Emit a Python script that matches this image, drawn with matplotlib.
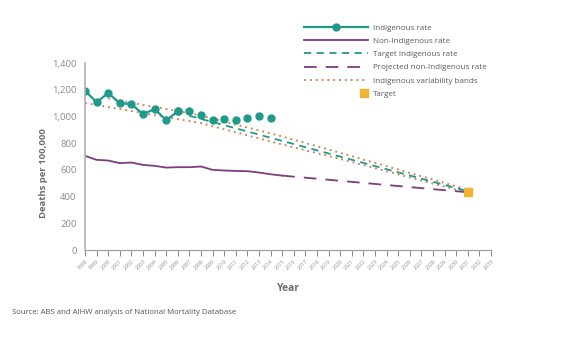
import matplotlib.pyplot as plt
from matplotlib.lines import Line2D
from matplotlib.legend_handler import HandlerBase

# data
years_ind = list(range(1998, 2015))
ind_rate = [1192, 1107, 1175, 1100, 1092, 1017, 1055, 972, 1037,
            1037, 1007, 972, 982, 977, 990, 1005, 987]
n_joined = 9  # 1998-2006 are joined by a line, the rest are markers only

years_non = list(range(1998, 2016))
non_rate = [705, 675, 670, 650, 655, 637, 630, 617, 620,
            620, 625, 600, 595, 592, 590, 580, 567, 557]

proj_years = [2015, 2031]
proj_non = [557, 432]

target_years = [2007, 2031]
target_ind = [1005, 440]

band_up_years = [2000, 2008, 2015, 2019, 2031]
band_up = [1135, 1007, 850, 752, 452]
band_lo_years = [1998, 2008, 2015, 2020, 2031]
band_lo = [1100, 950, 790, 682, 428]

target_year = [2031]
target_val = [435]

x_ticks = list(range(1998, 2034))
y_ticks = [0, 200, 400, 600, 800, 1000, 1200, 1400]

teal = '#1f9a8a'
purple = '#7d3c80'
orange = '#d0885a'
gold = '#f0b432'
grey = '#8a8a8a'

plt.rcParams['font.family'] = ['Open Sans', 'DejaVu Sans']


class RightSquare(HandlerBase):
    # square drawn at the right end of the legend handle
    def create_artists(self, legend, orig_handle, xdescent, ydescent,
                       width, height, fontsize, trans):
        m = Line2D([width - xdescent - 3], [height / 2 - ydescent],
                   marker='s', ms=6, color=gold, ls='none', transform=trans)
        return [m]


fig = plt.figure(figsize=(5.7, 3.42), dpi=100)
ax = fig.add_axes([85 / 570, 1 - 250 / 342, 406 / 570, 187 / 342])

ax.plot(band_up_years, band_up, color=orange, lw=1.4, ls=(0, (1, 2)))
ax.plot(band_lo_years, band_lo, color=orange, lw=1.4, ls=(0, (1, 2)))
ax.plot(target_years, target_ind, color=teal, lw=1.3, ls=(0, (4, 3)))
ax.plot(proj_years, proj_non, color=purple, lw=1.3, ls=(0, (7, 5)))
ax.plot(years_non, non_rate, color=purple, lw=1.3)
ax.plot(years_ind[:n_joined], ind_rate[:n_joined], color=teal, lw=1.6,
        marker='o', ms=5)
ax.plot(years_ind[n_joined - 1:], ind_rate[n_joined - 1:], color=teal,
        ls='none', marker='o', ms=5)
ax.plot(target_year, target_val, color=gold, ls='none', marker='s', ms=6)

ax.set_xlim(1998, 2033)
ax.set_ylim(0, 1400)
ax.set_xticks(x_ticks)
ax.set_xticklabels([str(y) for y in x_ticks], rotation=45, ha='right',
                   rotation_mode='anchor', fontsize=3.8, color=grey)
ax.set_yticks(y_ticks)
ax.set_yticklabels([f'{v:,}' for v in y_ticks], fontsize=6.8, color=grey)
ax.tick_params(axis='x', length=4, width=0.7, color=grey, pad=2)
ax.tick_params(axis='y', length=0, pad=6)
for s in ['top', 'right']:
    ax.spines[s].set_visible(False)
ax.spines['left'].set_color('#b0b0b0')
ax.spines['bottom'].set_color('#a0a0a0')
ax.spines['left'].set_linewidth(1.2)
ax.spines['bottom'].set_linewidth(0.9)

ax.set_xlabel('Year', fontsize=7.5, fontweight='bold', color='#6f6f6f')
ax.xaxis.set_label_coords(0.502, -0.175)
ax.set_ylabel('Deaths per 100,000', fontsize=6.8, fontweight='bold',
              color='#6f6f6f')
ax.yaxis.set_label_coords(-0.09, 0.41)

handles = [
    Line2D([], [], color=teal, lw=1.6, marker='o', ms=5),
    Line2D([], [], color=purple, lw=1.3),
    Line2D([], [], color=teal, lw=1.3, ls=(0, (4, 3))),
    Line2D([], [], color=purple, lw=1.3, ls=(0, (7, 5))),
    Line2D([], [], color=orange, lw=1.4, ls=(0, (1, 2))),
    Line2D([], [], color=gold, ls='none', marker='s', ms=6),
]
labels = ['Indigenous rate', 'Non-Indigenous rate', 'Target Indigenous rate',
          'Projected non-Indigenous rate', 'Indigenous variability bands',
          'Target']
leg = fig.legend(handles, labels, loc='upper left',
                 bbox_to_anchor=(300 / 570, 1 - 20 / 342), frameon=False,
                 fontsize=5.8, handlelength=8.0, handletextpad=0.6,
                 labelspacing=0.7, borderpad=0,
                 handler_map={handles[5]: RightSquare()})
for t in leg.get_texts():
    t.set_color('#5a5a5a')

fig.text(12 / 570, 1 - 312 / 342,
         'Source: ABS and AIHW analysis of National Mortality Database',
         fontsize=5.6, color='#555555', va='center')

fig.savefig('out.png', dpi=100)
